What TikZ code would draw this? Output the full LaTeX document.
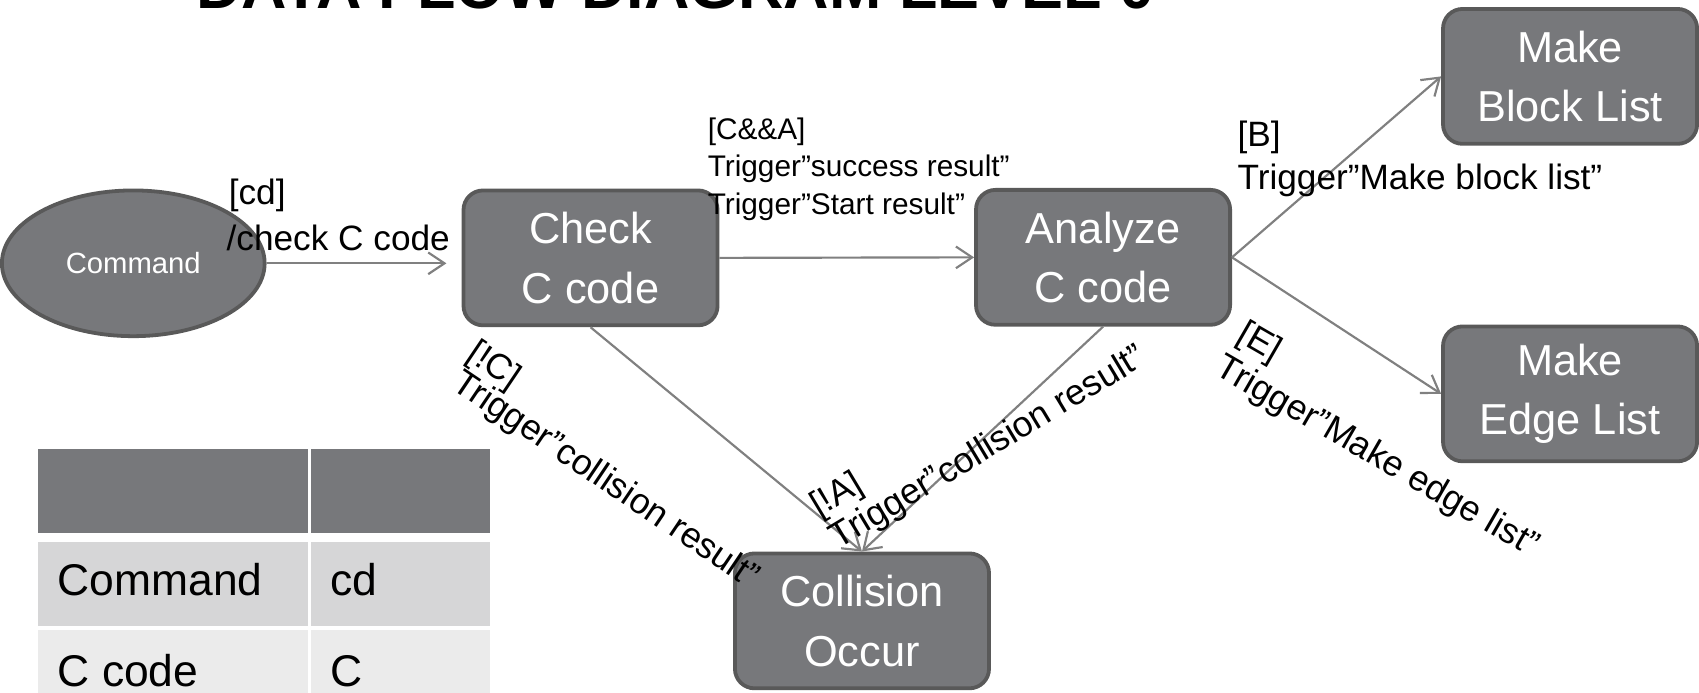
\documentclass[tikz,border=0pt]{standalone}
\usepackage{fontspec}
\setmainfont{Liberation Sans}
\usetikzlibrary{shapes.geometric,arrows.meta}
\definecolor{boxfill}{HTML}{77787B}
\definecolor{boxline}{HTML}{595959}
\definecolor{arrowcol}{HTML}{808080}
\definecolor{rowa}{HTML}{D6D6D7}
\definecolor{rowb}{HTML}{EBEBEB}
\begin{document}
\begin{tikzpicture}[x=1pt,y=-1pt,
  proc/.style={draw=boxline,fill=boxfill,line width=3.5pt,rounded corners=18pt,
    minimum width=234.5pt,minimum height=124.5pt,text=white,align=center,
    font=\fontsize{40}{55}\selectfont,inner sep=0pt},
  flow/.style={draw=arrowcol,line width=2pt,-{Straight Barb[length=15pt,width=20pt]}},
  lbl/.style={inner sep=0pt,anchor=base west},
  lblsmall/.style={lbl,font=\fontsize{27.5}{27.5}\selectfont},
  lblmid/.style={lbl,font=\fontsize{32.5}{32.5}\selectfont},
  lblrot/.style={lbl,font=\fontsize{33}{33}\selectfont},
  cell/.style={inner sep=0pt,anchor=west,font=\fontsize{41}{41}\selectfont},
]
\useasboundingbox (0,0) rectangle (1568,639);

% title (cut off by the page top)
\node[anchor=base west,inner sep=0pt,font=\fontsize{58}{58}\bfseries\selectfont] (title) at (181,8) {DATA FLOW DIAGRAM LEVEL 0};

% nodes
\node[ellipse,draw=boxline,fill=boxfill,line width=3.5pt,minimum width=242.5pt,
  minimum height=134.5pt,inner sep=0pt,text=white,font=\fontsize{27}{32}\selectfont]
  (command) at (123,243) {Command};
\node[proc] (check) at (545,238) {Check\\C code};
\node[proc] (analyze) at (1018,237.5) {Analyze\\C code};
\node[proc] (block) at (1449,70.5) {Make\\Block List};
\node[proc] (edge) at (1449,363.5) {Make\\Edge List};
\node[proc] (collision) at (795.5,573) {Collision\\Occur};

% connectors
\draw[flow,shorten >=14pt] (command.east) -- (check.west |- command.east);
\draw[flow] (check.east) -- (analyze.west);
\draw[flow] (analyze.east) -- (block.west);
\draw[flow] (analyze.east) -- (edge.west);
\draw[flow] (check.south) -- (collision.north);
\draw[flow] (analyze.south) -- (collision.north);

% labels
\node[lblmid] (cdA) at (211,189) {[cd]};
\node[lblmid] (cdB) at (209,231) {/check C code};
\node[lblsmall] (caA) at (653,129) {[C\&\&A]};
\node[lblsmall] (caB) at (653,163) {Trigger”success result”};
\node[lblsmall] (caC) at (653,198) {Trigger”Start result”};
\node[lblmid] (bA) at (1142,135) {[B]};
\node[lblmid] (bB) at (1142,175) {Trigger”Make block list”};
\node[lblrot,rotate=-34] (ncA) at (429,331) {[!C]};
\node[lblrot,rotate=-34] (ncB) at (416,358) {Trigger”collision result”};
\node[lblrot,rotate=31] (naA) at (756,478) {[!A]};
\node[lblrot,rotate=31] (naB) at (774,507) {Trigger”collision result”};
\node[lblrot,rotate=-30] (eA) at (1140,314) {[E]};
\node[lblrot,rotate=-30] (eB) at (1120,345) {Trigger”Make edge list”};

% table
\fill[boxfill] (35,414) rectangle (284,492);
\fill[boxfill] (287,414) rectangle (452,492);
\fill[rowa] (35,500) rectangle (284,578);
\fill[rowa] (287,500) rectangle (452,578);
\fill[rowb] (35,581) rectangle (284,645);
\fill[rowb] (287,581) rectangle (452,645);
\node[cell] (t11) at (53,535) {Command};
\node[cell] (t12) at (305,535) {cd};
\node[cell] (t21) at (53,619) {C code};
\node[cell] (t22) at (305,619) {C};
\end{tikzpicture}
\end{document}
